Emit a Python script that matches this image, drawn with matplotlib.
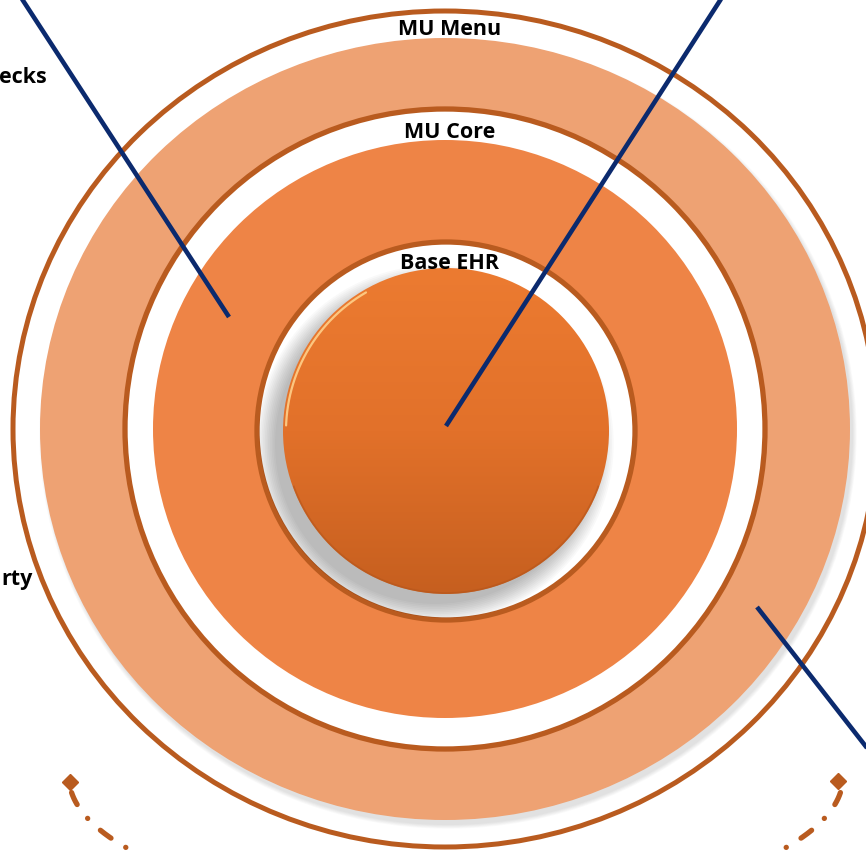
import numpy as np
import matplotlib
matplotlib.use("Agg")
import matplotlib.pyplot as plt
from matplotlib.patches import Ellipse, Circle
from matplotlib.colors import LinearSegmentedColormap

plt.rcParams['font.family'] = ['Open Sans', 'DejaVu Sans']
plt.rcParams['lines.scale_dashes'] = False

# labels of the layers, outer to inner
layer_labels = ["MU Menu", "MU Core", "Base EHR"]
# cut-off side labels (only the right part is visible)
side_labels = ["ecks", "rty"]

BROWN = "#B95B1F"
LIGHT = "#EEA273"
MID = "#EE8446"
NAVY = "#0B2A6E"

fig = plt.figure(figsize=(8.66, 8.54), dpi=100)
ax = fig.add_axes([0, 0, 1, 1])
ax.set_xlim(0, 866)
ax.set_ylim(854, 0)
ax.axis('off')

cx, cy = 445, 430

def arc_pts(x0, y0, rx, ry, t0, t1, n=200):
    t = np.radians(np.linspace(t0, t1, n))
    return x0 + rx * np.cos(t), y0 - ry * np.sin(t)

# outer thin ring
ax.add_patch(Ellipse((cx, cy), 864, 836, fill=False, ec=BROWN, lw=3.6, zorder=1))

# shadow under MU Menu band
for k in range(6):
    ax.add_patch(Ellipse((cx + 3, cy + 5), 810 + k * 1.5, 782 + k * 1.5,
                         color='black', alpha=0.02, lw=0, zorder=1.5))
ax.add_patch(Ellipse((cx, cy), 810, 782, color=LIGHT, lw=0, zorder=2))

# MU Core gap + ring
ax.add_patch(Circle((cx, cy), 320, fc='white', ec=BROWN, lw=3.8, zorder=3))
ax.add_patch(Ellipse((cx, cy), 584, 578, color=MID, lw=0, zorder=4))

# Base EHR gap + ring
bx, by = 446, 432
base = Circle((bx, by), 189, fc='white', ec=BROWN, lw=3.8, zorder=5)
ax.add_patch(base)
for k in range(12):
    sh = Circle((bx - 11, by + 13), 160 + k * 1.7, color='black', alpha=0.022, lw=0, zorder=5.5)
    ax.add_patch(sh)
    sh.set_clip_path(Circle((bx, by), 187, transform=ax.transData))

# inner disc with vertical gradient
r_in = 163
cmap = LinearSegmentedColormap.from_list("core", ["#EC7B31", "#E2712A", "#C65F1F"])
grad = np.linspace(0, 1, 256).reshape(-1, 1)
im = ax.imshow(grad, cmap=cmap, extent=(bx - r_in, bx + r_in, by + r_in, by - r_in),
               aspect='auto', zorder=6)
disc = Circle((bx, by), r_in, transform=ax.transData)
im.set_clip_path(disc)
ax.set_xlim(0, 866)
ax.set_ylim(854, 0)
hx, hy = arc_pts(bx, by, r_in - 3, r_in - 3, 120, 178)
ax.plot(hx, hy, color="#FFD08A", lw=1.6, alpha=0.9, zorder=7, solid_capstyle='round')
ex, ey = arc_pts(bx, by, r_in - 1, r_in - 1, 200, 340)
ax.plot(ex, ey, color="#B5561C", lw=1.2, alpha=0.6, zorder=7)

# labels
label_y = [35, 138, 269]
label_x = [450, 450, 449]
for lab, x, y in zip(layer_labels, label_x, label_y):
    ax.text(x, y, lab, fontsize=15.5, fontweight='bold', color='black',
            ha='center', va='baseline', zorder=10)
ax.text(47, 83, side_labels[0], fontsize=15.5, fontweight='bold', ha='right', va='baseline')
ax.text(1, 585, side_labels[1], fontsize=15.5, fontweight='bold', ha='left', va='baseline')

# pointer lines
ax.plot([22, 229], [0, 318], color=NAVY, lw=3.3, solid_capstyle='butt', zorder=9)
ax.plot([721, 446], [0, 427], color=NAVY, lw=3.3, solid_capstyle='butt', zorder=9)
ax.plot([757, 885], [608, 772], color=NAVY, lw=3.3, solid_capstyle='butt', zorder=9)

# dash-dot bracket at the bottom
ax_, ay_, arx, ary = 456, 778, 387, 135
dash = (30.0, (9.5, 12.5, 0.1, 12.5))
lx, ly = arc_pts(ax_, ay_, arx, ary, 184, 270)
ax.plot(lx, ly, color=BROWN, lw=3.8, linestyle=dash, dash_capstyle='round', zorder=2)
rx_, ry_ = arc_pts(ax_, ay_, arx, ary, -4, -90)
ax.plot(rx_, ry_, color=BROWN, lw=3.8, linestyle=dash, dash_capstyle='round', zorder=2)
ax.plot([70, 838], [783, 782], linestyle='none', marker='D', ms=8, color=BROWN, zorder=2)

fig.savefig("out.png", dpi=100)
